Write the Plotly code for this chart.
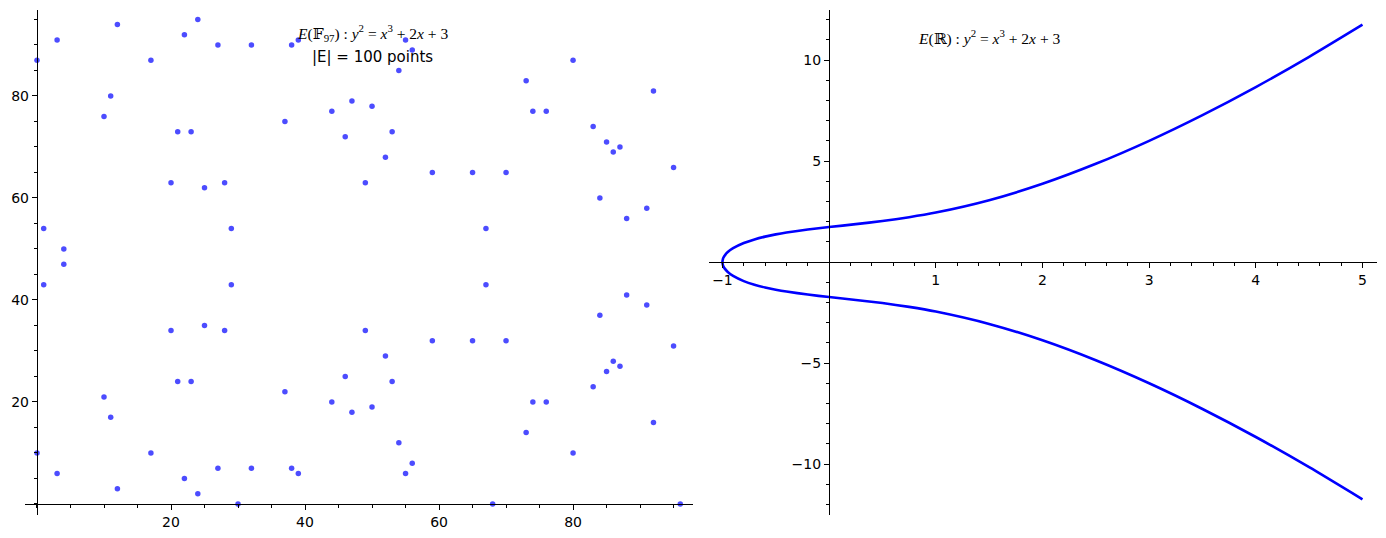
import plotly.graph_objects as go

# ---- Data: points of E(F_97): y^2 = x^3 + 2x + 3 ----
pts_x = [0, 0, 1, 1, 3, 3, 4, 4, 10, 10, 11, 11, 12, 12, 17, 17, 20, 20, 21, 21,
         22, 22, 23, 23, 24, 24, 25, 25, 27, 27, 28, 28, 29, 29, 30, 32, 32,
         37, 37, 38, 38, 39, 39, 44, 44, 46, 46, 47, 47, 49, 49, 50, 50,
         52, 52, 53, 53, 54, 54, 55, 55, 56, 56, 59, 59, 65, 65, 67, 67, 68,
         70, 70, 73, 73, 74, 74, 76, 76, 80, 80, 83, 83, 84, 84, 85, 85,
         86, 86, 87, 87, 88, 88, 91, 91, 92, 92, 95, 95, 96]
pts_y = [87, 10, 54, 43, 91, 6, 50, 47, 76, 21, 80, 17, 94, 3, 87, 10, 63, 34, 73, 24,
         92, 5, 73, 24, 95, 2, 62, 35, 90, 7, 63, 34, 54, 43, 0, 90, 7,
         75, 22, 90, 7, 91, 6, 77, 20, 72, 25, 79, 18, 63, 34, 78, 19,
         68, 29, 73, 24, 85, 12, 91, 6, 89, 8, 65, 32, 65, 32, 54, 43, 0,
         65, 32, 83, 14, 77, 20, 77, 20, 87, 10, 74, 23, 60, 37, 71, 26,
         69, 28, 70, 27, 56, 41, 58, 39, 81, 16, 66, 31, 0]

curve_x = [-1.0, -0.995, -0.99, -0.98, -0.95, -0.9, -0.8, -0.7, -0.6, -0.5, -0.4,
           -0.2, 0.0, 0.25, 0.5, 0.75, 1.0, 1.5, 2.0, 2.5, 3.0, 3.5, 4.0, 4.5, 5.0]
curve_y_upper = [0.0, 0.158, 0.223, 0.314, 0.493, 0.686, 0.942, 1.121, 1.259, 1.369, 1.462,
                 1.610, 1.732, 1.875, 2.031, 2.219, 2.449, 3.062, 3.873, 4.861, 6.0,
                 7.272, 8.660, 10.155, 11.747]
curve_y_lower = [0.0, -0.158, -0.223, -0.314, -0.493, -0.686, -0.942, -1.121, -1.259, -1.369, -1.462,
                 -1.610, -1.732, -1.875, -2.031, -2.219, -2.449, -3.062, -3.873, -4.861, -6.0,
                 -7.272, -8.660, -10.155, -11.747]

left_xticks = [20, 40, 60, 80]
left_yticks = [20, 40, 60, 80]
right_xticks = [-1, 1, 2, 3, 4, 5]
right_yticks = [-10, -5, 5, 10]

# ---- Layout geometry (page body adds an 8px offset) ----
W, H = 1386, 538
OFF = 8
L_dom_x = [(25 - OFF) / W, (693 - OFF) / W]
R_dom_x = [(709 - OFF) / W, (1377 - OFF) / W]
dom_y = [1 - (515 - OFF) / H, 1 - (10 - OFF) / H]
L_xr = [-1.79, 97.9]
L_yr = [-2.16, 96.86]
R_xr = [-1.126, 5.136]
R_yr = [-12.52, 12.475]


def pos_of_zero(rng, dom):
    f = (0 - rng[0]) / (rng[1] - rng[0])
    return dom[0] + f * (dom[1] - dom[0])


fig = go.Figure()

fig.add_trace(go.Scatter(
    x=pts_x, y=pts_y, mode="markers", xaxis="x", yaxis="y",
    marker=dict(size=5.5, color="rgba(0,0,255,0.7)", line=dict(width=0)),
    showlegend=False, hoverinfo="x+y"))

cx = list(reversed(curve_x)) + curve_x[1:]
cy = list(reversed(curve_y_upper)) + curve_y_lower[1:]
fig.add_trace(go.Scatter(
    x=cx, y=cy, mode="lines", xaxis="x2", yaxis="y2",
    line=dict(color="#0000ff", width=2.6, shape="spline", smoothing=0.6),
    showlegend=False))

tickfont = dict(family="DejaVu Sans", size=14, color="black")
common = dict(showgrid=False, zeroline=False, showline=True, linecolor="black",
              linewidth=1.3, ticks="outside", ticklen=5, tickwidth=1.1,
              tickcolor="black", tickfont=tickfont, fixedrange=True,
              tickmode="array", automargin=False)

minor_common = dict(tickmode="linear", tick0=0, ticks="outside",
                    ticklen=3, tickcolor="black", tickwidth=1)

fig.update_layout(
    width=W, height=H,
    paper_bgcolor="white", plot_bgcolor="white",
    margin=dict(l=0, r=0, t=0, b=0, autoexpand=False),
    xaxis=dict(domain=L_dom_x, range=L_xr, anchor="free",
               position=pos_of_zero(L_yr, dom_y), tickvals=left_xticks,
               minor=dict(dtick=5, **minor_common), **common),
    yaxis=dict(domain=dom_y, range=L_yr, anchor="free",
               position=pos_of_zero(L_xr, L_dom_x), tickvals=left_yticks,
               minor=dict(dtick=5, **minor_common), **common),
    xaxis2=dict(domain=R_dom_x, range=R_xr, anchor="free",
                position=pos_of_zero(R_yr, dom_y), tickvals=right_xticks,
                minor=dict(dtick=0.2, **minor_common), **common),
    yaxis2=dict(domain=dom_y, range=R_yr, anchor="free",
                position=pos_of_zero(R_xr, R_dom_x), tickvals=right_yticks,
                minor=dict(dtick=1, **minor_common), **common),
)

math_font = dict(family="Liberation Serif, DejaVu Serif", size=15.5, color="black")
fig.add_annotation(
    x=50, y=92.4, xref="x", yref="y", showarrow=False,
    text="<i>E</i>(𝔽<sub>97</sub>) : <i>y</i><sup>2</sup> = <i>x</i><sup>3</sup> + 2<i>x</i> + 3",
    font=math_font)
fig.add_annotation(
    x=50, y=87.6, xref="x", yref="y", showarrow=False,
    text="|E| = 100 points",
    font=dict(family="DejaVu Sans", size=15, color="black"))
fig.add_annotation(
    x=1.5, y=11.1, xref="x2", yref="y2", showarrow=False,
    text="<i>E</i>(ℝ) : <i>y</i><sup>2</sup> = <i>x</i><sup>3</sup> + 2<i>x</i> + 3",
    font=math_font)

fig.write_html("out.html")
